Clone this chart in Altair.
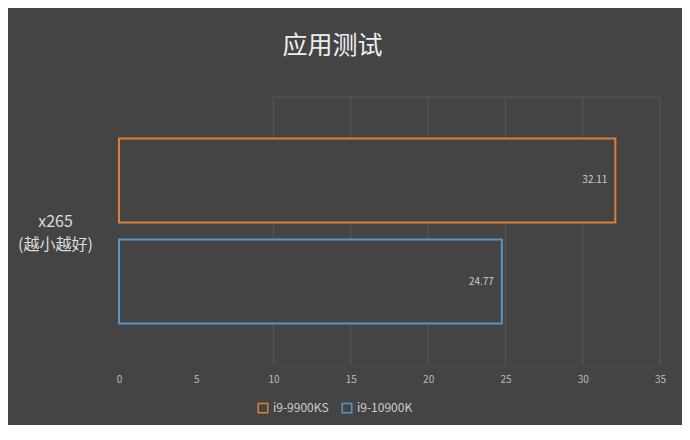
import altair as alt
import pandas as pd

series = ["i9-9900KS", "i9-10900K"]
values = [32.11, 24.77]
colors = ["#e07f33", "#5a93c9"]
ticks = [0, 5, 10, 15, 20, 25, 30, 35]
grid_vals = [10, 15, 20, 25, 30, 35]
category_label = ["x265", "(越小越好)"]
title_text = "应用测试"

BG = "#444444"
FONT = "Noto Sans CJK SC"

df = pd.DataFrame({"series": series, "value": values})
grid_df = pd.DataFrame({"g": grid_vals})
frame_df = pd.DataFrame({"a": [grid_vals[0]], "b": [grid_vals[-1]]})

xscale = alt.Scale(domain=[0, 35], nice=False, zero=True)
yscale = alt.Scale(domain=series, paddingInner=0.168, paddingOuter=0.41)

xaxis = alt.Axis(
    values=ticks,
    grid=False,
    domain=False,
    ticks=False,
    title=None,
    labelColor="#bbbbbb",
    labelFontSize=10,
    labelFont=FONT,
    labelPadding=9,
    labelFlush=False,
)

grid = alt.Chart(grid_df).mark_rule(color="#575757", strokeWidth=1).encode(
    x=alt.X("g:Q", scale=xscale, axis=xaxis),
    y=alt.value(0),
    y2=alt.value(268),
)
frame_top = alt.Chart(frame_df).mark_rule(color="#575757", strokeWidth=1).encode(
    x=alt.X("a:Q", scale=xscale),
    x2="b:Q",
    y=alt.value(0),
)
frame_bot = alt.Chart(frame_df).mark_rule(color="#4d4d4d", strokeWidth=1).encode(
    x=alt.X("a:Q", scale=xscale),
    x2="b:Q",
    y=alt.value(268),
)

bars = alt.Chart(df).mark_bar(fill=BG, fillOpacity=1, strokeWidth=2).encode(
    x=alt.X("value:Q", scale=xscale, axis=xaxis),
    y=alt.Y(
        "series:N",
        scale=yscale,
        sort=series,
        axis=alt.Axis(
            labels=False,
            ticks=False,
            domain=False,
            grid=False,
            title=category_label,
            titleAngle=0,
            titleX=-64,
            titleY=124,
            titleAlign="center",
            titleBaseline="middle",
            titleColor="#dddddd",
            titleFont=FONT,
            titleFontSize=16,
            titleFontWeight="normal",
            titleLineHeight=23,
        ),
    ),
    stroke=alt.Stroke(
        "series:N",
        scale=alt.Scale(domain=series, range=colors),
        legend=alt.Legend(
            title=None,
            orient="none",
            direction="horizontal",
            legendX=138,
            legendY=305,
            symbolType="square",
            symbolFillColor=BG,
            symbolStrokeWidth=1.5,
            symbolSize=90,
            labelColor="#cccccc",
            labelFont=FONT,
            labelFontSize=12,
            columnPadding=10,
        ),
    ),
)

labels = alt.Chart(df).mark_text(
    align="right", dx=-8, color="#cccccc", fontSize=10, font=FONT
).encode(
    x=alt.X("value:Q", scale=xscale),
    y=alt.Y("series:N", scale=yscale, sort=series),
    text=alt.Text("value:Q", format=".2f"),
)

chart = (
    alt.layer(grid, frame_top, frame_bot, bars, labels)
    .properties(
        width=541,
        height=268,
        background=BG,
        padding={"left": 111, "top": 89, "right": 22, "bottom": 60},
        autosize=alt.AutoSizeParams(type="none"),
        title=alt.TitleParams(
            title_text,
            color="#eeeeee",
            font=FONT,
            fontSize=25,
            fontWeight="normal",
            anchor="middle",
            dx=-57,
            offset=38,
        ),
    )
    .configure_view(stroke=None)
)

chart.save("out.html", embed_options={"renderer": "svg", "actions": False})
